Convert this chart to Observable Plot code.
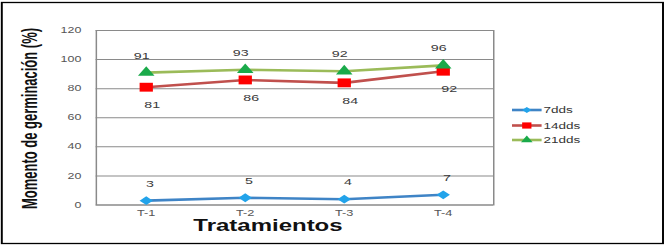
<!DOCTYPE html>
<html>
<head>
<meta charset="utf-8">
<script src="https://cdn.jsdelivr.net/npm/d3@7"></script>
<script src="https://cdn.jsdelivr.net/npm/@observablehq/plot@0.6"></script>
<style>
  html, body { margin: 0; padding: 0; background: #fff; }
</style>
</head>
<body>
<div id="chart"></div>
<script>
// ---- data ----
const categories = ["T-1", "T-2", "T-3", "T-4"];
const seriesNames = ["7dds", "14dds", "21dds"];
const values7 = [3, 5, 4, 7];
const values14 = [81, 86, 84, 92];
const values21 = [91, 93, 92, 96];
const yTicks = [0, 20, 40, 60, 80, 100, 120];
const yTitle = "Momento de germinación (%)";
const xTitle = "Tratamientos";

// ---- styles ----
const lineColors = ["#3F84C6", "#C0504D", "#9BBB59"];
const markColors = ["#22A3EA", "#FF0000", "#1AAA4A"];
const symbols = ["diamond2", "square", "triangle"];
const markR = [4.0, 5.0, 4.1];
const labelDy = [-17, 18, -17];
const labelDx = [2.5, 4, -3];

const SX = 1.5;            // horizontal stretch of the original picture
const W = 666, H = 247;
const w = W / SX;          // drawing width before stretch

const allValues = [values7, values14, values21];
const rows = [];
seriesNames.forEach((s, i) => {
  categories.forEach((c, j) => rows.push({series: s, idx: i, cat: c, value: allValues[i][j]}));
});

const font = "Liberation Sans, Arial, sans-serif";

const marks = [
  Plot.gridY(yTicks, {stroke: "#8a8a8a", strokeOpacity: 1, strokeWidth: 1}),
  Plot.frame({stroke: "#8a8a8a", strokeWidth: 1}),
  Plot.axisY({ticks: yTicks, tickSize: 0, tickPadding: 10, fontSize: 8.3, fill: "#555", label: null}),
  Plot.axisX({tickSize: 0, tickPadding: 5, fontSize: 8.5, fill: "#555", label: null})
];
seriesNames.forEach((s, i) => {
  const d = rows.filter(r => r.idx === i);
  marks.push(Plot.line(d, {x: "cat", y: "value", stroke: lineColors[i], strokeWidth: 2.6}));
  marks.push(Plot.dot(d, {x: "cat", y: "value", symbol: () => symbols[i], r: markR[i], fill: markColors[i], stroke: "none"}));
  marks.push(Plot.text(d, {x: "cat", y: "value", text: r => String(r.value), dy: labelDy[i], dx: labelDx[i], fontSize: 9.5, fill: "#3a3a3a"}));
});

const plot = Plot.plot({
  width: w,
  height: H,
  marginLeft: 95.6 / SX,
  marginRight: w - 493 / SX,
  marginTop: 30,
  marginBottom: 42.5,
  style: {fontFamily: font, background: "white"},
  x: {domain: categories, type: "band", padding: 0, axis: null},
  y: {domain: [0, 120], axis: null},
  symbol: {type: "identity"},
  marks
});

const svg = d3.select(plot);

// outer border
svg.append("rect")
  .attr("x", 1.2).attr("y", 2.5)
  .attr("width", 442 - 1.2).attr("height", 243.5 - 2.5)
  .attr("fill", "none").attr("stroke", "#000").attr("stroke-width", 1.3);

// y title
svg.append("text")
  .attr("transform", `translate(${28 / SX + 6}, 118.5) rotate(-90)`)
  .attr("text-anchor", "middle")
  .attr("font-family", font)
  .attr("font-weight", "bold")
  .attr("font-size", 15)
  .attr("textLength", 181)
  .attr("lengthAdjust", "spacingAndGlyphs")
  .attr("fill", "#111")
  .text(yTitle);

// x title
svg.append("text")
  .attr("x", 268 / SX).attr("y", 231.5)
  .attr("text-anchor", "middle")
  .attr("font-family", font)
  .attr("font-weight", "bold")
  .attr("font-size", 16)
  .attr("fill", "#111")
  .text(xTitle);

// legend
const legY = [110, 125.5, 140];
seriesNames.forEach((s, i) => {
  const g = svg.append("g");
  g.append("line")
    .attr("x1", 512 / SX).attr("x2", 541.6 / SX)
    .attr("y1", legY[i]).attr("y2", legY[i])
    .attr("stroke", lineColors[i]).attr("stroke-width", 2.6);
  const sym = {diamond2: d3.symbolDiamond2, square: d3.symbolSquare, triangle: d3.symbolTriangle}[symbols[i]];
  g.append("path")
    .attr("transform", `translate(${526.8 / SX}, ${legY[i]})`)
    .attr("d", d3.symbol(sym, Math.PI * (markR[i] * 0.7) ** 2)())
    .attr("fill", markColors[i]);
  g.append("text")
    .attr("x", 543.5 / SX).attr("y", legY[i])
    .attr("dy", "0.35em")
    .attr("text-anchor", "start")
    .attr("font-family", font)
    .attr("font-size", 9)
    .attr("fill", "#333")
    .text(s);
});

// stretch horizontally like the reference picture
plot.setAttribute("width", W);
plot.setAttribute("height", H);
plot.setAttribute("preserveAspectRatio", "none");
plot.style.width = W + "px";
plot.style.height = H + "px";
plot.style.maxWidth = "none";

document.getElementById("chart").appendChild(plot);
</script>
</body>
</html>
